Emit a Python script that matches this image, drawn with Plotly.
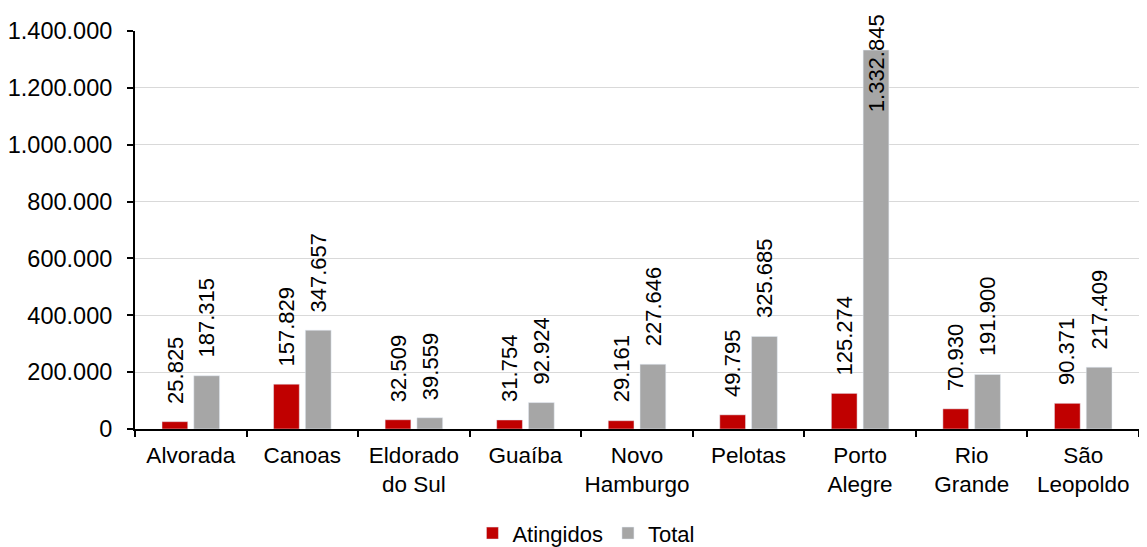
import plotly.graph_objects as go

# municipios e populacao
cidades = ["Alvorada", "Canoas", "Eldorado<br>do Sul", "Guaíba", "Novo<br>Hamburgo",
           "Pelotas", "Porto<br>Alegre", "Rio<br>Grande", "São<br>Leopoldo"]
atingidos = [25825, 157829, 32509, 31754, 29161, 49795, 125274, 70930, 90371]
total = [187315, 347657, 39559, 92924, 227646, 325685, 1332845, 191900, 217409]
y_ticks = [0, 200000, 400000, 600000, 800000, 1000000, 1200000, 1400000]

fonte = dict(family="Liberation Sans", size=23.5, color="black")
fonte_x = dict(family="Liberation Sans", size=22.5, color="black")
fonte_rot = dict(family="Liberation Sans", size=22, color="black")

def fmt(v):
    return f"{v:,}".replace(",", ".")

fig = go.Figure()
fig.add_trace(go.Bar(x=cidades, y=atingidos, name="Atingidos", marker_color="#C00000"))
fig.add_trace(go.Bar(x=cidades, y=total, name="Total", marker_color="#A6A6A6"))

# rotulos de dados, um pouco acima das barras (estilo excel)
for c, a, t in zip(cidades, atingidos, total):
    fig.add_annotation(x=c, y=a, text=fmt(a), xshift=-16, yshift=16, textangle=-90,
                       yanchor="bottom", showarrow=False, font=fonte_rot)
    # porto alegre passa do topo, entao o rotulo desce pra dentro da barra
    fig.add_annotation(x=c, y=t, text=fmt(t), xshift=16,
                       yshift=-64 if t > 1300000 else 16, textangle=-90,
                       yanchor="bottom", showarrow=False, font=fonte_rot)

# pagina html tem margem de 8px no body, entao a figura fica menor
fig.update_layout(
    width=1131, height=539,
    margin=dict(l=127, r=0, t=23, b=118, autoexpand=False),
    paper_bgcolor="white", plot_bgcolor="white",
    font=fonte,
    separators=",.",
    barmode="group", bargap=0.43, bargroupgap=0.19,
    showlegend=True,
    legend=dict(orientation="h", xref="container", x=0.511, xanchor="center",
                y=-0.262, yanchor="middle", font=fonte_rot,
                itemwidth=30, traceorder="normal", tracegroupgap=0),
)
fig.update_xaxes(range=[-0.5, 8.5], showline=True, linecolor="black", linewidth=2,
                 ticks="outside", tickson="boundaries", ticklen=6, tickwidth=2,
                 tickcolor="black", showgrid=False, tickfont=fonte_x, tickangle=0,
                 ticklabelstandoff=5, automargin=False)
fig.update_yaxes(range=[0, 1400000], tickvals=y_ticks, tickformat=",d",
                 showline=True, linecolor="black", linewidth=2, ticks="outside",
                 ticklen=6, tickwidth=2, tickcolor="black", showgrid=True,
                 gridcolor="#D9D9D9", gridwidth=1, zeroline=False, tickfont=fonte,
                 ticklabelstandoff=10, automargin=False)

fig.write_html("out.html")
